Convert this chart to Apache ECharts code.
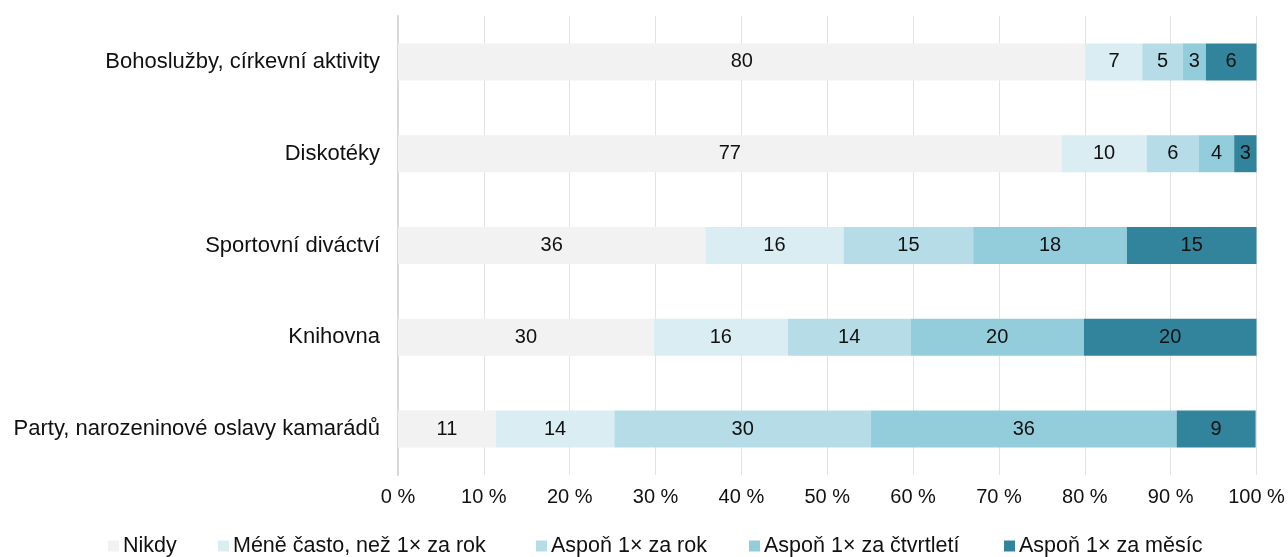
<!DOCTYPE html>
<html>
<head>
<meta charset="utf-8">
<script src="https://cdn.jsdelivr.net/npm/echarts@6/dist/echarts.min.js"></script>
<style>
html,body{margin:0;padding:0;background:#fff;}
#chart{width:1288px;height:557px;}
</style>
</head>
<body>
<div id="chart"></div>
<script>
const categories = ["Bohoslužby, církevní aktivity", "Diskotéky", "Sportovní diváctví", "Knihovna", "Party, narozeninové oslavy kamarádů"];
const seriesNames = ["Nikdy", "Méně často, než 1× za rok", "Aspoň 1× za rok", "Aspoň 1× za čtvrtletí", "Aspoň 1× za měsíc"];
const nikdy = [80.1, 77.3, 35.8, 29.8, 11.4];
const meneCasto = [6.6, 9.9, 16.1, 15.6, 13.8];
const zaRok = [4.7, 6.1, 15.1, 14.3, 29.9];
const zaCtvrtleti = [2.7, 4.1, 17.9, 20.2, 35.6];
const zaMesic = [5.9, 2.6, 15.1, 20.1, 9.2];
const tickLabels = ["0 %", "10 %", "20 %", "30 %", "40 %", "50 %", "60 %", "70 %", "80 %", "90 %", "100 %"];

const colors = ["#f2f2f2", "#daedf3", "#b6dde7", "#93cddc", "#31849b"];
const values = [nikdy, meneCasto, zaRok, zaCtvrtleti, zaMesic];
const FONT = "Liberation Sans, Arial, sans-serif";
const TXT = '#111111';
const legendLeft = [108, 218, 536, 749, 1004];

const chart = echarts.init(document.getElementById('chart'), null, {renderer: 'canvas'});
chart.setOption({
  animation: false,
  backgroundColor: '#fff',
  textStyle: {fontFamily: FONT},
  grid: {left: 398, right: 31.5, top: 16, height: 459, containLabel: false},
  legend: seriesNames.map((n, i) => ({
    data: [n],
    left: legendLeft[i],
    top: 535,
    padding: 0,
    itemWidth: 11,
    itemHeight: 11,
    itemGap: 0,
    icon: 'rect',
    textStyle: {fontFamily: FONT, fontSize: 21.5, color: TXT, padding: [0, 0, 0, -1]},
    selectedMode: false
  })),
  xAxis: {
    type: 'value',
    min: 0, max: 100, interval: 10,
    axisLine: {show: false},
    axisTick: {show: false},
    splitLine: {show: true, lineStyle: {color: '#e3e3e3', width: 1}},
    axisLabel: {
      fontFamily: FONT, fontSize: 20, color: TXT, margin: 12,
      formatter: (v) => tickLabels[Math.round(v / 10)]
    }
  },
  yAxis: {
    type: 'category',
    data: categories,
    inverse: true,
    axisLine: {show: true, lineStyle: {color: '#d9d9d9', width: 2}},
    axisTick: {show: false},
    splitLine: {show: false},
    axisLabel: {fontFamily: FONT, fontSize: 22, color: TXT, margin: 18}
  },
  series: seriesNames.map((n, i) => ({
    name: n,
    type: 'bar',
    stack: 'total',
    barWidth: 37,
    data: values[i],
    itemStyle: {color: colors[i]},
    label: {
      show: true,
      position: 'inside',
      fontFamily: FONT,
      fontSize: 20,
      color: TXT,
      formatter: (p) => Math.round(p.value)
    }
  }))
});
</script>
</body>
</html>
